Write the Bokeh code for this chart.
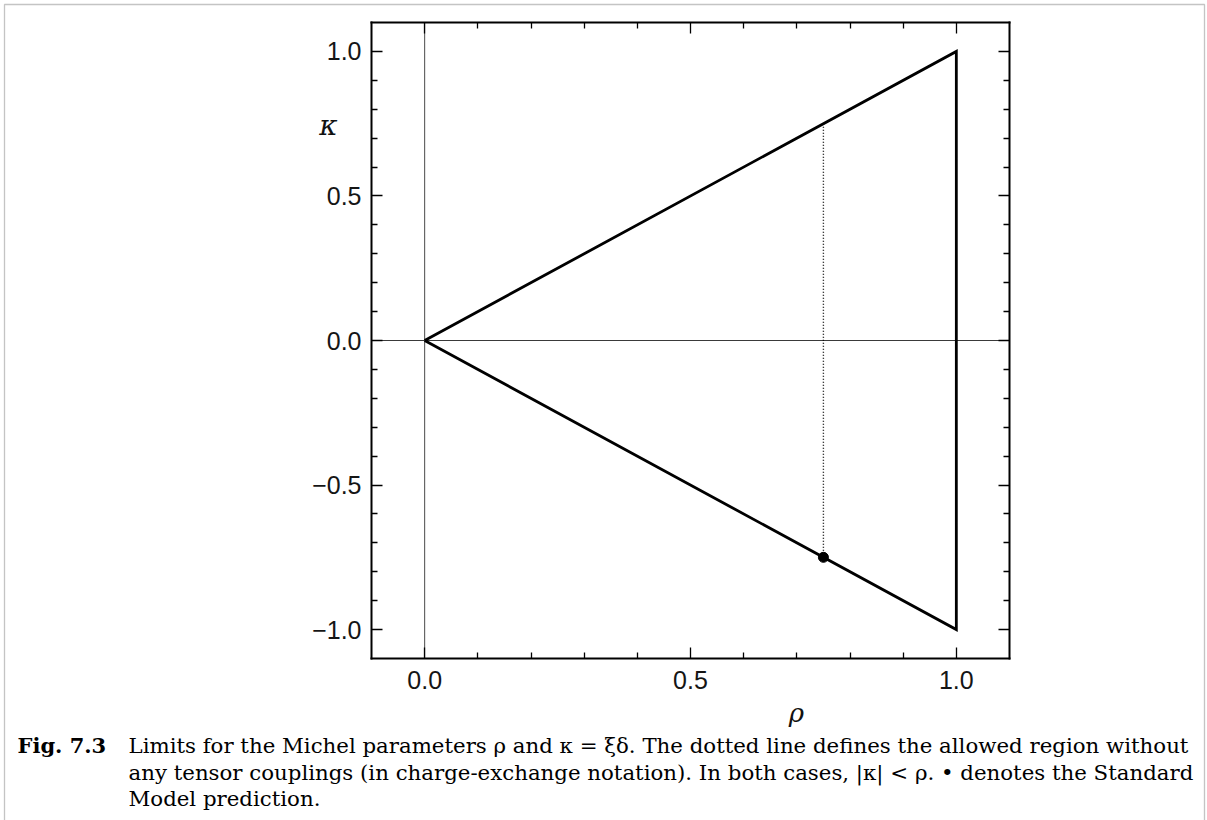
from bokeh.plotting import figure
from bokeh.models import (Range1d, LinearAxis, FixedTicker, CustomJSTickFormatter,
                          Label, PolyAnnotation)
from bokeh.embed import file_html
from bokeh.resources import INLINE

# Plotted window in (rho, kappa)
rho_lim = [-0.1, 1.1]
kappa_lim = [-1.1, 1.1]

# Boundary of the allowed region: |kappa| <= rho <= 1
boundary_rho = [0.0, 1.0, 1.0, 0.0]
boundary_kappa = [0.0, 1.0, -1.0, 0.0]

# Allowed region without tensor couplings ends at rho = 3/4
no_tensor_rho = [0.75, 0.75]
no_tensor_kappa = [0.75, -0.75]

# Standard Model prediction
sm_rho = [0.75]
sm_kappa = [-0.75]

# Axis ticks
x_major = [0.0, 0.5, 1.0]
x_minor = [0.1, 0.2, 0.3, 0.4, 0.6, 0.7, 0.8, 0.9]
y_major = [-1.0, -0.5, 0.0, 0.5, 1.0]
y_minor = [-0.9, -0.8, -0.7, -0.6, -0.4, -0.3, -0.2, -0.1,
           0.1, 0.2, 0.3, 0.4, 0.6, 0.7, 0.8, 0.9]

x_symbol = "\u03c1"
y_symbol = "\u03ba"
caption_head = "Fig. 7.3"
caption_lines = [
    "Limits for the Michel parameters \u03c1 and \u03ba = \u03be\u03b4. The dotted line defines the allowed region without",
    "any tensor couplings (in charge-exchange notation). In both cases, |\u03ba| < \u03c1. \u2022 denotes the Standard",
    "Model prediction.",
]

# Page geometry (pixels): the axes box sits inside a page that also holds the caption
W, H = 1207, 820
BOX_L, BOX_R, BOX_T, BOX_B = 371, 1009, 22, 658
sx = (BOX_R - BOX_L) / (rho_lim[1] - rho_lim[0])
sy = (BOX_B - BOX_T) / (kappa_lim[1] - kappa_lim[0])


def fx(px):
    """page column -> rho"""
    return rho_lim[0] + (px - BOX_L) / sx


def fy(py):
    """page row -> kappa"""
    return kappa_lim[1] - (py - BOX_T) / sy


p = figure(width=W, height=H,
           x_range=Range1d(fx(0), fx(W)), y_range=Range1d(fy(H), fy(0)),
           output_backend="svg", toolbar_location=None,
           x_axis_location=None, y_axis_location=None,
           min_border=0, outline_line_color=None)
p.grid.visible = False
p.background_fill_color = "white"
p.border_fill_color = "white"

label_fmt = CustomJSTickFormatter(
    code="return (tick < -1e-9 ? '\u2212' : '') + Math.abs(tick).toFixed(1);")
blank_fmt = CustomJSTickFormatter(code="return '';")


def box_axis(ticker, bounds, where, labels, standoff=10):
    ax = LinearAxis(ticker=ticker, bounds=tuple(bounds), fixed_location=where)
    ax.axis_line_color = "black"
    ax.axis_line_width = 2
    ax.axis_line_cap = "square"
    ax.major_tick_in = 11
    ax.major_tick_out = 0
    ax.minor_tick_in = 6
    ax.minor_tick_out = 0
    ax.major_tick_line_color = "black"
    ax.minor_tick_line_color = "black"
    ax.major_tick_line_width = 1.3
    ax.minor_tick_line_width = 1.3
    if labels:
        ax.formatter = label_fmt
        ax.major_label_text_font = "Liberation Sans"
        ax.major_label_text_font_size = "25px"
        ax.major_label_text_color = "#151515"
        ax.major_label_standoff = standoff
    else:
        ax.formatter = blank_fmt
        ax.major_label_text_font_size = "0px"
        ax.major_label_standoff = 0
    return ax


x_ticker = FixedTicker(ticks=x_major, minor_ticks=x_minor)
y_ticker = FixedTicker(ticks=y_major, minor_ticks=y_minor)

p.add_layout(box_axis(x_ticker, rho_lim, kappa_lim[0], True, standoff=12), "below")
p.add_layout(box_axis(x_ticker, rho_lim, kappa_lim[1], False), "above")
p.add_layout(box_axis(y_ticker, kappa_lim, rho_lim[0], True, standoff=10), "left")
p.add_layout(box_axis(y_ticker, kappa_lim, rho_lim[1], False), "right")

# zero lines across the box
p.line([0, 0], kappa_lim, line_color="#4a4a4a", line_width=1)
p.line(rho_lim, [0, 0], line_color="#3a3a3a", line_width=1)

# allowed region and its restriction without tensor couplings
p.line(boundary_rho, boundary_kappa, line_color="black", line_width=2.8, line_join="miter")
p.line(no_tensor_rho, no_tensor_kappa, line_color="black", line_width=1.4, line_dash="1 2")
p.scatter(sm_rho, sm_kappa, size=10, color="black")

# axis symbols
p.add_layout(Label(x=fx(328), y=fy(125), text=y_symbol, text_font="DejaVu Serif",
                   text_font_style="italic", text_font_size="28px", text_color="#111111",
                   text_align="center", text_baseline="middle"))
p.add_layout(Label(x=fx(796), y=fy(712), text=x_symbol, text_font="DejaVu Serif",
                   text_font_style="italic", text_font_size="26px", text_color="#111111",
                   text_align="center", text_baseline="middle"))

# caption
CAP_FONT = "DejaVu Serif"
p.add_layout(Label(x=fx(17), y=fy(745), text=caption_head, text_font=CAP_FONT,
                   text_font_style="bold", text_font_size="21px", text_color="black",
                   text_align="left", text_baseline="middle"))
for i, line in enumerate(caption_lines):
    p.add_layout(Label(x=fx(128), y=fy(745 + 26.5 * i), text=line, text_font=CAP_FONT,
                       text_font_size="21.3px", text_color="black",
                       text_align="left", text_baseline="middle"))

# page border around the figure and its caption
p.add_layout(PolyAnnotation(xs=[fx(4), fx(4), fx(1204), fx(1204)],
                            ys=[fy(860), fy(4), fy(4), fy(860)],
                            fill_alpha=0, line_color="#3a3a3a", line_width=1.3))

open("out.html", "w").write(file_html(p, INLINE))
